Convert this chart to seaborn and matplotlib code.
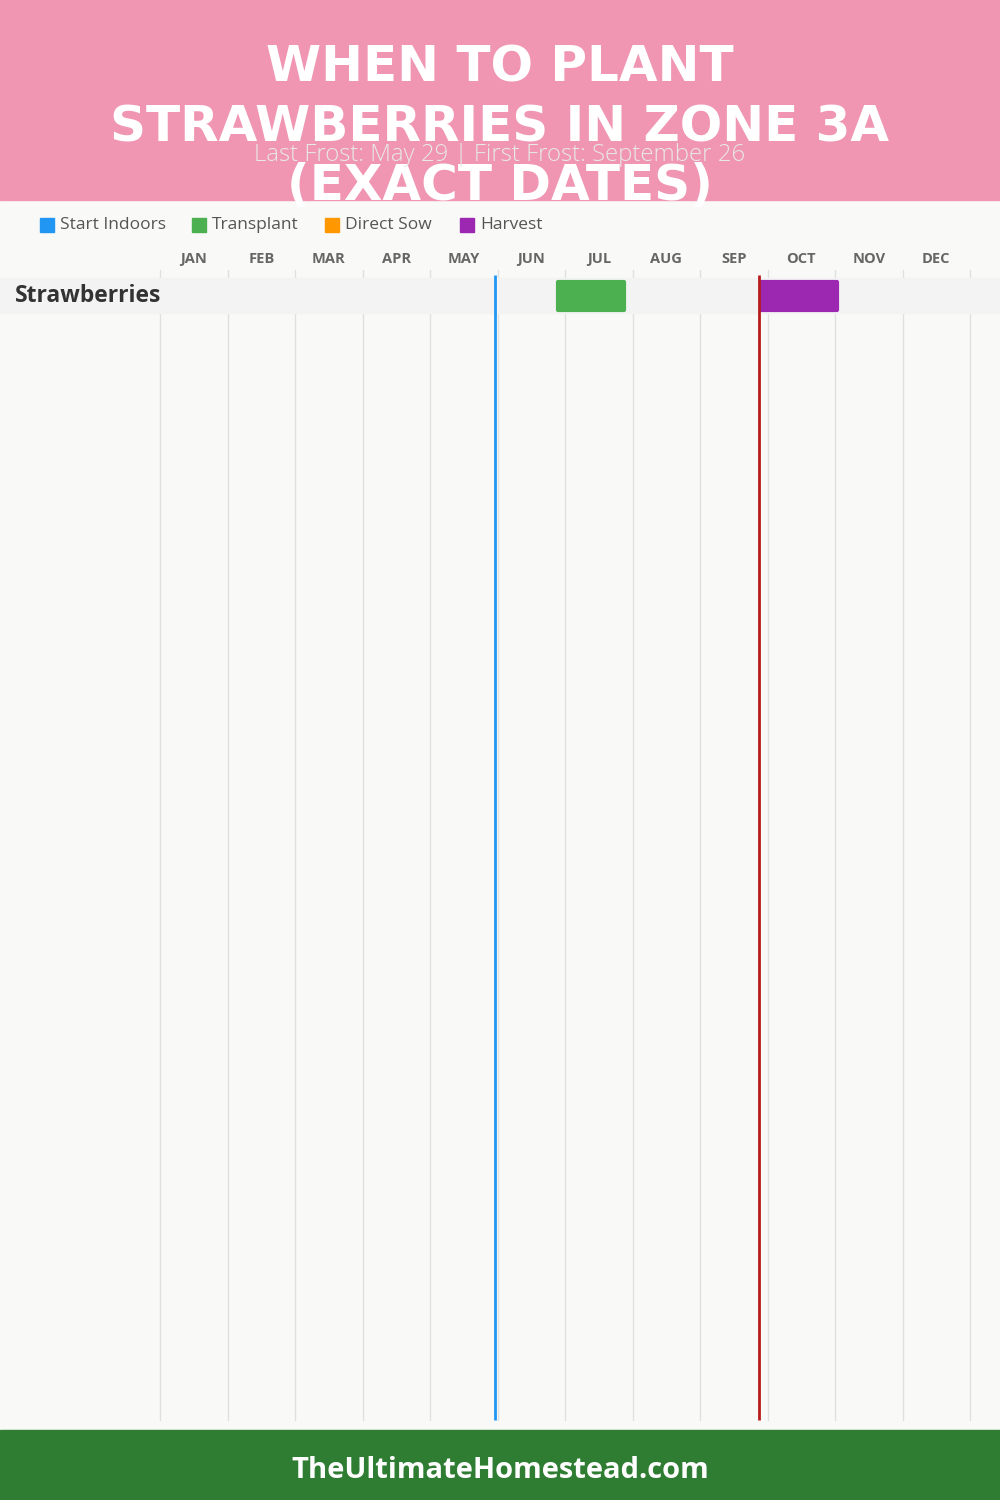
import matplotlib
matplotlib.use("Agg")
import matplotlib.pyplot as plt
import seaborn as sns
import pandas as pd

# --- data ---
MONTHS = ["JAN", "FEB", "MAR", "APR", "MAY", "JUN",
          "JUL", "AUG", "SEP", "OCT", "NOV", "DEC"]
CROPS = ["Strawberries"]
ACTIVITIES = ["Start Indoors", "Transplant", "Direct Sow", "Harvest"]
ACTIVITY_COLORS = ["#2196F3", "#4CAF50", "#FF9800", "#9C27B0"]

# tasks in month units (0 = Jan 1, 12 = Dec 31)
TASK_CROP = ["Strawberries", "Strawberries"]
TASK_TYPE = ["Transplant", "Harvest"]
TASK_START = [5.90, 8.91]
TASK_END = [6.88, 10.03]

LAST_FROST = 4.97   # May 29
FIRST_FROST = 8.87  # Sep 26

TITLE = "WHEN TO PLANT\nSTRAWBERRIES IN ZONE 3A\n(EXACT DATES)"
SUBTITLE = "Last Frost: May 29 | First Frost: September 26"
FOOTER = "TheUltimateHomestead.com"

sns.set_theme(style="white")
plt.rcParams["font.family"] = ["Open Sans", "DejaVu Sans"]

W, H = 1000, 1500
fig = plt.figure(figsize=(10, 15), dpi=100)

# background / decoration axes in pixel units
bg = fig.add_axes([0, 0, 1, 1], zorder=0)
bg.set_xlim(0, W)
bg.set_ylim(H, 0)
bg.axis("off")
bg.add_patch(plt.Rectangle((0, 0), W, H, color="#f9f9f8"))
bg.add_patch(plt.Rectangle((0, 0), W, 200, color="#f095b2"))
bg.add_patch(plt.Rectangle((0, 1430), W, 70, color="#2e7d32"))

# main chart axes: x in months, y in pixels
left, right, top, bottom = 160, 970, 270, 1420
ax = fig.add_axes([left / W, 1 - bottom / H, (right - left) / W, (bottom - top) / H], zorder=1)
ax.set_facecolor("none")
ax.set_xlim(0, 12)
ax.set_ylim(bottom, top)
ax.axis("off")

for m in range(13):
    ax.axvline(m, color="#e0e0e0", lw=1, zorder=1, clip_on=False)

row_top, row_h = 278, 35
tasks = pd.DataFrame({"crop": TASK_CROP, "type": TASK_TYPE,
                      "start": TASK_START, "end": TASK_END})
color_map = dict(zip(ACTIVITIES, ACTIVITY_COLORS))

for i, crop in enumerate(CROPS):
    y0 = row_top + i * row_h
    ax.axhspan(y0, y0 + row_h, xmin=-left / (right - left), xmax=(W - left) / (right - left),
               color="#f3f3f3", zorder=2, clip_on=False)
    ax.text(-left / 67.5 + 15 / 67.5, y0 + row_h / 2, crop, fontsize=16.5, fontweight="bold",
            color="#333333", va="center", ha="left", clip_on=False)
    sub = tasks[tasks["crop"] == crop]
    cols = [color_map[t] for t in sub["type"]]
    ax.barh([y0 + row_h / 2] * len(sub), sub["end"] - sub["start"], left=sub["start"],
            height=row_h - 7, color=cols, edgecolor=cols, linewidth=3,
            joinstyle="round", zorder=4)

ax.vlines(LAST_FROST, 275, bottom, color="#2196F3", lw=2, zorder=5, clip_on=False)
ax.vlines(FIRST_FROST, 275, bottom, color="#b71c1c", lw=2, zorder=5, clip_on=False)

for m, name in enumerate(MONTHS):
    ax.text(m + 0.5, 259, name, ha="center", va="center", fontsize=10.5,
            fontweight="bold", color="#666666", clip_on=False)

# legend
for x, label, c in zip([40, 192, 325, 460], ACTIVITIES, ACTIVITY_COLORS):
    bg.add_patch(plt.Rectangle((x, 218), 14, 14, color=c, zorder=3))
    bg.text(x + 20, 225, label, fontsize=12.5, color="#555555", va="center", ha="left")

# header and footer text
bg.text(500, 127, TITLE, ha="center", va="center", fontsize=36, fontweight="bold",
        family="DejaVu Sans", color="white", linespacing=1.3, zorder=5)
bg.text(500, 155, SUBTITLE, ha="center", va="center", fontsize=17.3,
        color="#e8e8e8", fontweight="light", zorder=6)
bg.text(500, 1471, FOOTER, ha="center", va="center", fontsize=21,
        fontweight="bold", color="white", zorder=5)

fig.savefig("out.png", dpi=100)
